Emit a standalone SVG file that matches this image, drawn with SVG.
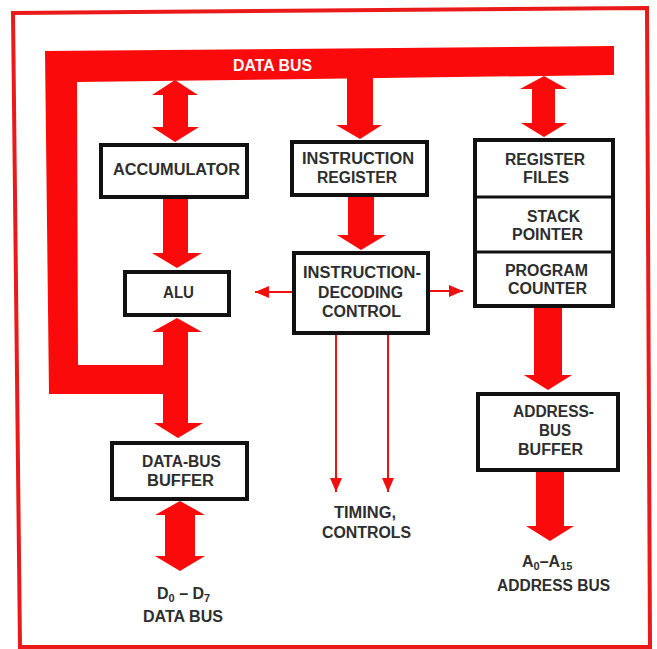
<svg xmlns="http://www.w3.org/2000/svg" width="657" height="649" viewBox="0 0 657 649">
<defs>
<style>
.box{fill:#fff;stroke:#111;stroke-width:4}
.div{stroke:#111;stroke-width:3}
.bus{fill:#fa0a0a}
.thin{stroke:#f01010;stroke-width:2;fill:none}
.t{font-family:"Liberation Sans",Arial,sans-serif;font-weight:bold;font-size:16px;fill:#2e2e2e}
.w{fill:#fff}
</style>
<marker id="ah" viewBox="0 0 14 12" refX="14" refY="6" markerWidth="14" markerHeight="12" markerUnits="userSpaceOnUse" orient="auto">
<path d="M0,0 L14,6 L0,12 z" fill="#f01010"/>
</marker>
</defs>
<rect width="657" height="649" fill="#fff"/>
<polygon points="13,13 647,8 650,647 20,647" fill="none" stroke="#ea1a1a" stroke-width="4"/>

<g id="connectors">
<!-- data bus bar with left return -->
<polygon class="bus" points="45,51 614,46 614,75 77,82 78,365 170,365 170,394 49,394"/>
<!-- bus to accumulator double arrow -->
<polygon class="bus" points="175,80 198,95 188,95 188,127 199,127 175,142 152,127 163,127 163,95 152,95"/>
<!-- bus to instruction register -->
<polygon class="bus" points="347,76 373,76 373,125 382,125 360,139 336,125 347,125"/>
<!-- bus to register files double arrow -->
<polygon class="bus" points="544,76 567,89 555,89 555,123 567,123 544,137 521,123 532,123 532,89 520,89"/>
<!-- accumulator to ALU -->
<polygon class="bus" points="163,199 188,199 188,253 202,253 177,268 152,253 163,253"/>
<!-- ALU / data-bus buffer double arrow -->
<polygon class="bus" points="177,318 202,332 188,332 188,423 203,423 178,438 154,423 163,423 163,332 152,332"/>
<!-- instruction register to decoding -->
<polygon class="bus" points="348,197 374,197 374,235 386,235 361,250 337,235 348,235"/>
<!-- program counter to address buffer -->
<polygon class="bus" points="534,308 562,308 562,375 572,375 548,390 524,375 534,375"/>
<!-- address buffer out -->
<polygon class="bus" points="536,472 564,472 564,526 574,526 550,541 526,526 536,526"/>
<!-- data-bus buffer out double arrow -->
<polygon class="bus" points="180,501 205,515 195,515 195,556 205,556 180,571 155,556 165,556 165,515 155,515"/>
<!-- thin control arrows -->
<line class="thin" x1="292" y1="292" x2="255" y2="292" marker-end="url(#ah)"/>
<line class="thin" x1="430" y1="291" x2="463" y2="291" marker-end="url(#ah)"/>
<line class="thin" x1="336" y1="335" x2="336" y2="492" marker-end="url(#ah)"/>
<line class="thin" x1="388" y1="335" x2="388" y2="492" marker-end="url(#ah)"/>
</g>

<text class="t w" x="233" y="71" textLength="79" lengthAdjust="spacingAndGlyphs">DATA BUS</text>

<g id="accumulator">
<rect class="box" x="101" y="145" width="146" height="52"/>
<text class="t" x="113" y="175" textLength="127" lengthAdjust="spacingAndGlyphs">ACCUMULATOR</text>
</g>

<g id="instruction-register">
<rect class="box" x="292" y="142" width="135" height="53"/>
<text class="t" x="302" y="164" textLength="112" lengthAdjust="spacingAndGlyphs">INSTRUCTION</text>
<text class="t" x="317" y="183" textLength="80" lengthAdjust="spacingAndGlyphs">REGISTER</text>
</g>

<g id="register-stack">
<rect class="box" x="475" y="140" width="138" height="166"/>
<line class="div" x1="475" y1="197" x2="613" y2="197"/>
<line class="div" x1="475" y1="252" x2="613" y2="252"/>
<text class="t" x="505" y="165" textLength="80" lengthAdjust="spacingAndGlyphs">REGISTER</text>
<text class="t" x="523" y="183" textLength="46" lengthAdjust="spacingAndGlyphs">FILES</text>
<text class="t" x="527" y="222" textLength="53" lengthAdjust="spacingAndGlyphs">STACK</text>
<text class="t" x="512" y="240" textLength="71" lengthAdjust="spacingAndGlyphs">POINTER</text>
<text class="t" x="505" y="276" textLength="83" lengthAdjust="spacingAndGlyphs">PROGRAM</text>
<text class="t" x="508" y="294" textLength="79" lengthAdjust="spacingAndGlyphs">COUNTER</text>
</g>

<g id="alu">
<rect class="box" x="125" y="272" width="104" height="43"/>
<text class="t" x="163" y="298" textLength="31" lengthAdjust="spacingAndGlyphs">ALU</text>
</g>

<g id="decoding-control">
<rect class="box" x="294" y="253" width="134" height="80"/>
<text class="t" x="303" y="278" textLength="118" lengthAdjust="spacingAndGlyphs">INSTRUCTION-</text>
<text class="t" x="318" y="298" textLength="85" lengthAdjust="spacingAndGlyphs">DECODING</text>
<text class="t" x="322" y="317" textLength="79" lengthAdjust="spacingAndGlyphs">CONTROL</text>
</g>

<g id="address-bus-buffer">
<rect class="box" x="478" y="394" width="140" height="76"/>
<text class="t" x="513" y="417" textLength="81" lengthAdjust="spacingAndGlyphs">ADDRESS-</text>
<text class="t" x="539" y="436" textLength="32" lengthAdjust="spacingAndGlyphs">BUS</text>
<text class="t" x="518" y="455" textLength="65" lengthAdjust="spacingAndGlyphs">BUFFER</text>
</g>

<g id="data-bus-buffer">
<rect class="box" x="112" y="443" width="135" height="56"/>
<text class="t" x="142" y="467" textLength="79" lengthAdjust="spacingAndGlyphs">DATA-BUS</text>
<text class="t" x="147" y="486" textLength="67" lengthAdjust="spacingAndGlyphs">BUFFER</text>
</g>

<g id="timing-controls">
<text class="t" x="334" y="518" textLength="62" lengthAdjust="spacingAndGlyphs">TIMING,</text>
<text class="t" x="322" y="538" textLength="89" lengthAdjust="spacingAndGlyphs">CONTROLS</text>
</g>

<g id="data-bus-out">
<text class="t" x="157" y="599">D<tspan font-size="11" dy="3">0</tspan><tspan dy="-3"> – D</tspan><tspan font-size="11" dy="3">7</tspan></text>
<text class="t" x="143" y="622" textLength="80" lengthAdjust="spacingAndGlyphs">DATA BUS</text>
</g>

<g id="address-bus-out">
<text class="t" x="522" y="567">A<tspan font-size="11" dy="3">0</tspan><tspan dy="-3">–A</tspan><tspan font-size="11" dy="3">15</tspan></text>
<text class="t" x="497" y="591" textLength="113" lengthAdjust="spacingAndGlyphs">ADDRESS BUS</text>
</g>
</svg>
